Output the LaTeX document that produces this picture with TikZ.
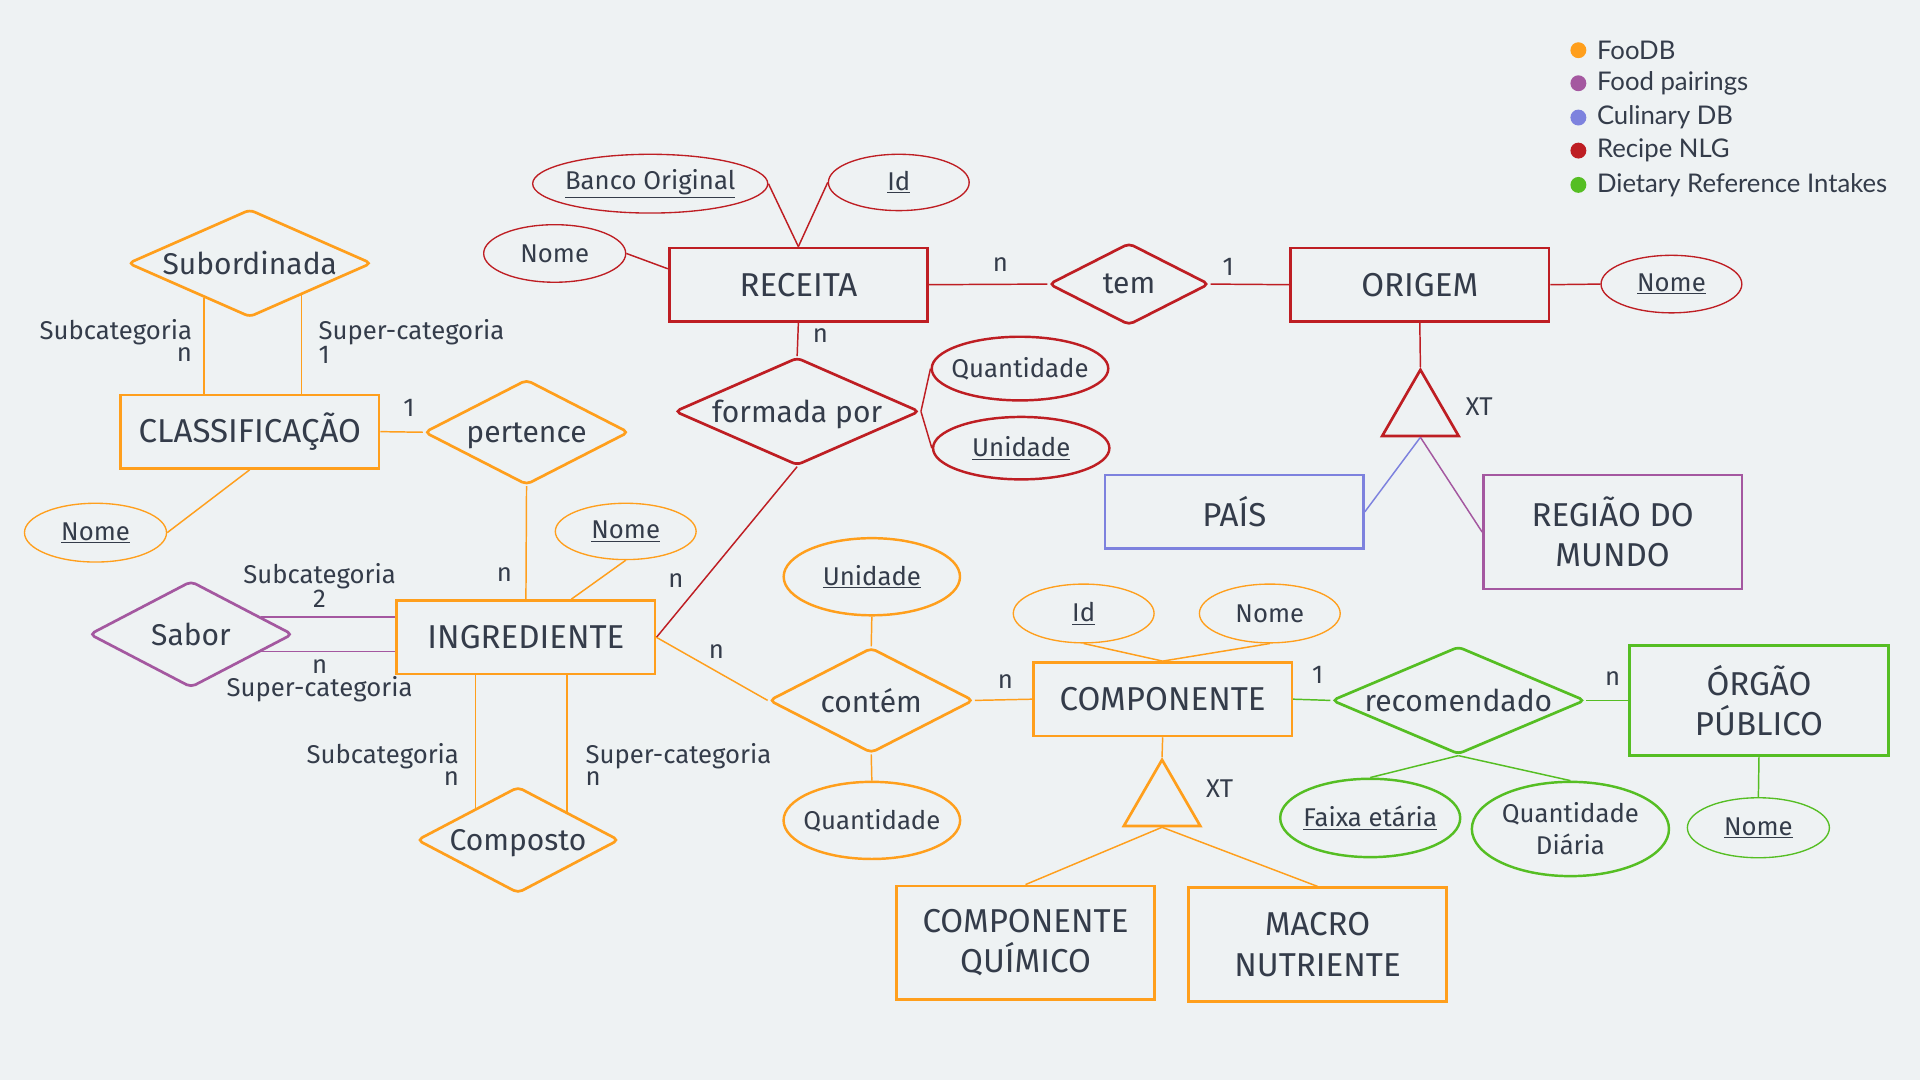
\documentclass[tikz,border=0pt]{standalone}
\usepackage{fontspec}
\setmainfont{Fira Sans}
\newfontfamily\legendfont{Lato}
\usetikzlibrary{shapes.geometric}

\definecolor{fooOrange}{RGB}{255,159,28}
\definecolor{pairPurple}{RGB}{164,88,160}
\definecolor{culBlue}{RGB}{125,130,222}
\definecolor{nlgRed}{RGB}{190,30,35}
\definecolor{driGreen}{RGB}{85,190,35}
\definecolor{inkGray}{RGB}{52,60,74}
\definecolor{bgGray}{RGB}{238,242,243}

\tikzset{
  entity/.style={draw, rectangle, line width=2.2pt, minimum width=211pt, minimum height=60pt,
    inner sep=0pt, align=center, text=inkGray, font=\fontsize{27}{33}\selectfont},
  relation/.style={draw, diamond, aspect=2.3, line width=2.2pt, rounded corners=4pt,
    inner sep=-10pt, text depth=0pt, text=inkGray, font=\fontsize{24.5}{28}\selectfont},
  attr/.style={draw, ellipse, line width=1.1pt, inner sep=-5pt, align=center,
    text=inkGray, font=\fontsize{21}{26}\selectfont},
  attrthick/.style={attr, line width=2pt},
  isa/.style={draw, regular polygon, regular polygon sides=3, minimum size=72pt,
    inner sep=0pt, line width=2.2pt},
  card/.style={inner sep=0pt, text=inkGray, font=\fontsize{21}{18}\selectfont},
  link/.style={line width=1.2pt},
  legdot/.style={circle, fill, inner sep=0pt, minimum size=13pt},
  legtext/.style={anchor=west, inner sep=0pt, text=inkGray, font=\legendfont\fontsize{21}{21}\selectfont}
}

\begin{document}
\begin{tikzpicture}[x=1pt,y=1pt,yscale=-1,xscale=1]
%background, sets the size of the diagram
\fill[bgGray] (0,0) rectangle (1568,882);

%Legend
\node[legdot, fooOrange] (dfoo) at (1289,41) {};
\node[legtext] (tfoo) at (1304,41) {FooDB};
\node[legdot, pairPurple] (dpair) at (1289,68) {};
\node[legtext] (tpair) at (1304,68) {Food pairings};
\node[legdot, culBlue] (dcul) at (1289,96) {};
\node[legtext] (tcul) at (1304,96) {Culinary DB};
\node[legdot, nlgRed] (dnlg) at (1289,123) {};
\node[legtext] (tnlg) at (1304,123) {Recipe NLG};
\node[legdot, driGreen] (ddri) at (1289,151) {};
\node[legtext] (tdri) at (1304,151) {Dietary Reference Intakes};

%Recipe NLG
\node[entity, draw=nlgRed] (rec) at (652,232.5) {RECEITA};
\node[relation, draw=nlgRed, minimum width=131pt, minimum height=67pt] (tem) at (922,232) {tem};
\node[entity, draw=nlgRed] (ori) at (1159.5,232.5) {ORIGEM};
\node[attr, draw=nlgRed, minimum width=192pt, minimum height=48pt] (bco) at (531,150) {\underline{Banco Original}};
\node[attr, draw=nlgRed, minimum width=115pt, minimum height=46pt] (rid) at (734,149) {\underline{Id}};
\node[attr, draw=nlgRed, minimum width=116pt, minimum height=47pt] (rnome) at (453,207) {Nome};
\node[attr, draw=nlgRed, minimum width=115pt, minimum height=47pt] (onome) at (1365,232) {\underline{Nome}};
\node[relation, draw=nlgRed, minimum width=200pt, minimum height=88pt] (forma) at (651,336) {formada por};
\node[attrthick, draw=nlgRed, minimum width=143pt, minimum height=52pt] (fqtd) at (833,301) {Quantidade};
\node[attrthick, draw=nlgRed, minimum width=144pt, minimum height=51pt] (funi) at (834,366) {\underline{Unidade}};
\node[isa, draw=nlgRed] (spec) at (1160,338) {};

%Culinary DB and Food pairings
\node[entity, draw=culBlue] (pais) at (1008,418) {PAÍS};
\node[entity, draw=pairPurple, minimum height=93pt] (regiao) at (1317,434.5) {REGIÃO DO\\MUNDO};
\node[relation, draw=pairPurple, minimum width=166pt, minimum height=87pt] (sab) at (156,518) {Sabor};

%FooDB
\node[relation, draw=fooOrange, minimum width=199pt, minimum height=88pt] (sub) at (204,215) {Subordinada};
\node[entity, draw=fooOrange] (cls) at (204,352.5) {CLASSIFICAÇÃO};
\node[relation, draw=fooOrange, minimum width=167pt, minimum height=86pt] (pert) at (430,353) {pertence};
\node[attr, draw=fooOrange, minimum width=116pt, minimum height=48pt] (cnome) at (78,435) {\underline{Nome}};
\node[attr, draw=fooOrange, minimum width=115pt, minimum height=46pt] (inome) at (511,434) {\underline{Nome}};
\node[entity, draw=fooOrange] (ingr) at (429.5,520.5) {INGREDIENTE};
\node[relation, draw=fooOrange, minimum width=165pt, minimum height=87pt] (comp) at (423,686) {Composto};
\node[attrthick, draw=fooOrange, minimum width=144pt, minimum height=63pt] (cuni) at (712,471) {\underline{Unidade}};
\node[relation, draw=fooOrange, minimum width=167pt, minimum height=86pt] (cont) at (711.5,572) {contém};
\node[attrthick, draw=fooOrange, minimum width=144pt, minimum height=63pt] (cqtd) at (712,670) {Quantidade};
\node[entity, draw=fooOrange] (cmp) at (949.5,571) {COMPONENTE};
\node[attr, draw=fooOrange, minimum width=115pt, minimum height=48pt] (cid) at (885,501) {\underline{Id}};
\node[attr, draw=fooOrange, minimum width=115pt, minimum height=48pt] (cnm) at (1037,501) {Nome};
\node[isa, draw=fooOrange] (spec2) at (949,656.5) {};
\node[entity, draw=fooOrange, minimum height=93pt] (quim) at (837.5,770) {COMPONENTE\\QUÍMICO};
\node[entity, draw=fooOrange, minimum height=93pt] (macro) at (1076,771.5) {MACRO\\NUTRIENTE};

%Dietary Reference Intakes
\node[relation, draw=driGreen, minimum width=207pt, minimum height=88pt] (rcm) at (1191,572) {recomendado};
\node[entity, draw=driGreen, minimum height=90pt] (org) at (1436.5,572) {ÓRGÃO\\PÚBLICO};
\node[attrthick, draw=driGreen, minimum width=147pt, minimum height=64pt] (faixa) at (1119,668) {\underline{Faixa etária}};
\node[attrthick, draw=driGreen, minimum width=161pt, minimum height=77pt] (qdia) at (1282.5,677) {Quantidade\\Diária};
\node[attr, draw=driGreen, minimum width=116pt, minimum height=49pt] (onm) at (1436,676) {\underline{Nome}};

%Straight Lines
\draw[link, nlgRed] (bco.east) -- (rec.north);
\draw[link, nlgRed] (rid.west) -- (rec.north);
\draw[link, nlgRed] (rnome.east) -- ([yshift=-13pt]rec.west);
\draw[link, nlgRed] (rec.east) -- (tem.west);
\draw[link, nlgRed] (tem.east) -- (ori.west);
\draw[link, nlgRed] (ori.east) -- (onome.west);
\draw[link, nlgRed] (ori.south) -- (spec.corner 1);
\draw[link, culBlue] (spec.side 2) -- (pais.east);
\draw[link, pairPurple] (spec.side 2) -- (regiao.west);
\draw[link, nlgRed] (rec.south) -- (forma.north);
\draw[link, nlgRed] (forma.east) -- (fqtd.west);
\draw[link, nlgRed] (forma.east) -- (funi.west);
\draw[link, nlgRed] (forma.south) -- (ingr.east);
%Straight Lines
\draw[link, fooOrange] (sub.217) -- (sub.217 |- cls.north);
\draw[link, fooOrange] (sub.-32) -- (sub.-32 |- cls.north);
\draw[link, fooOrange] (cls.east) -- (pert.west);
\draw[link, fooOrange] (cnome.east) -- (cls.south);
\draw[link, fooOrange] (pert.south) -- (ingr.north);
\draw[link, fooOrange] (inome.south) -- ([xshift=37pt]ingr.north);
\draw[link, pairPurple] (sab.14) -- (sab.14 -| ingr.west);
\draw[link, pairPurple] (sab.-14) -- (sab.-14 -| ingr.west);
\draw[link, fooOrange] (comp.143) -- (comp.143 |- ingr.south);
\draw[link, fooOrange] (comp.30) -- (comp.30 |- ingr.south);
\draw[link, fooOrange] (ingr.east) -- (cont.west);
\draw[link, fooOrange] (cuni.south) -- (cont.north);
\draw[link, fooOrange] (cont.south) -- (cqtd.north);
\draw[link, fooOrange] (cont.east) -- (cmp.west);
\draw[link, fooOrange] (cid.south) -- (cmp.north);
\draw[link, fooOrange] (cnm.south) -- (cmp.north);
\draw[link, fooOrange] (cmp.south) -- (spec2.corner 1);
\draw[link, fooOrange] (spec2.side 2) -- (quim.north);
\draw[link, fooOrange] (spec2.side 2) -- (macro.north);
%Straight Lines
\draw[link, driGreen] (cmp.east) -- (rcm.west);
\draw[link, driGreen] (rcm.east) -- (org.west);
\draw[link, driGreen] (org.south) -- (onm.north);
\draw[link, driGreen] (rcm.south) -- (faixa.north);
\draw[link, driGreen] (rcm.south) -- (qdia.north);

% Text Node
\node[card] (c1) at (817,216) {n};
\node[card] (c2) at (1003,218) {1};
\node[card] (c3) at (670,274) {n};
\node[card] (xt1) at (1208,332) {XT};
\node[card, anchor=east, align=right] (c4) at (157,278) {Subcategoria\\n};
\node[card, anchor=west, align=left] (c5) at (260,279) {Super-categoria\\1};
\node[card] (c6) at (334,333) {1};
\node[card] (c7) at (412,469) {n};
\node[card, align=center] (c8) at (261,478) {Subcategoria\\2};
\node[card, align=center] (c9) at (261,556) {n\\Super-categoria};
\node[card] (c10) at (552,474) {n};
\node[card] (c11) at (585,532) {n};
\node[card, anchor=east, align=right] (c12) at (375,624.5) {Subcategoria\\n};
\node[card, anchor=west, align=left] (c13) at (478,624.5) {Super-categoria\\n};
\node[card] (c14) at (821,557) {n};
\node[card] (c15) at (1076,551) {1};
\node[card] (c16) at (1317,554) {n};
\node[card] (xt2) at (996,644) {XT};

\end{tikzpicture}
\end{document}
